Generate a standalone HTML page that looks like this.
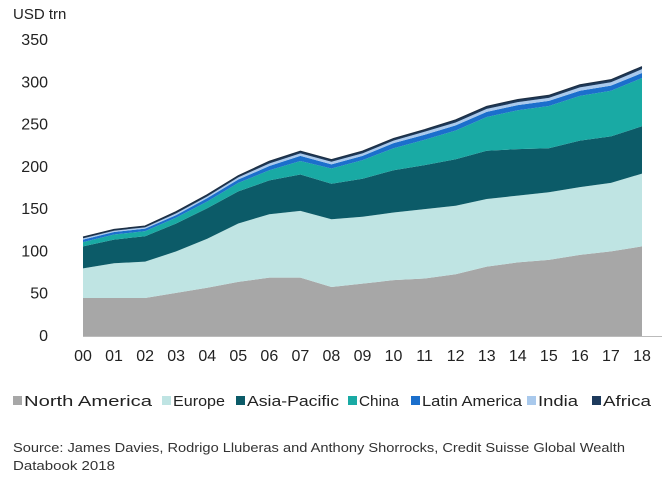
<!DOCTYPE html>
<html><head><meta charset="utf-8"><style>
html,body{margin:0;padding:0;background:#fff;}
svg{display:block;font-family:"Liberation Sans",sans-serif;}
</style></head><body>
<svg id="chart" width="668" height="485" viewBox="0 0 668 485">
<text x="13" y="19" font-size="15" fill="#222">USD trn</text>
<g id="areas"></g>
<g id="yticks"></g>
<g id="xticks"></g>
<line x1="83" y1="336.5" x2="662" y2="336.5" stroke="#bbb" stroke-width="1"/>
<g id="legend"></g>
<text x="13" y="452" font-size="12.5" fill="#333" textLength="612" lengthAdjust="spacingAndGlyphs">Source: James Davies, Rodrigo Lluberas and Anthony Shorrocks, Credit Suisse Global Wealth</text>
<text x="13" y="470" font-size="12.5" fill="#333" textLength="102" lengthAdjust="spacingAndGlyphs">Databook 2018</text>
</svg>
<script>
const years=["00","01","02","03","04","05","06","07","08","09","10","11","12","13","14","15","16","17","18"];
const seriesNames=["North America","Europe","Asia-Pacific","China","Latin America","India","Africa"];
const northAmerica=[45,45,45,51,57,64,69,69,58,62,66,68,73,82,87,90,96,100,106];
const europe=[35,41,43,49,58,69,75,79,80,79,80,82,81,80,79,80,80,81,86];
const asiaPacific=[26,28,30,33,36,38,40,43,42,45,50,52,55,57,55,52,55,55,56];
const china=[5,6,6,7,8,10,12,16,18,22,26,30,34,40,46,50,53,54,57];
const latinAmerica=[3,3,3,3,4,4,5,6,5,5,6,6,6,6,6,6,6,6,6];
const india=[1.5,1.5,1.5,2,2,2.5,3,3,3,3,3,3.5,3.5,3.5,3.5,3.5,4,4,4.5];
const africa=[1.5,1.5,1.5,2,2,2,2.5,2.5,2.5,2.5,2.5,2.5,3,3,3,3,3,3,3];
const yTicks=[0,50,100,150,200,250,300,350];
const colors=["#a7a7a7","#bfe4e3","#0c5b68","#19aaa4","#1b6fcc","#a9c9ec","#1d3a5c"];
const NS="http://www.w3.org/2000/svg";
const x0=83,x1=642,yBase=336,pxPer=0.8457;
function xs(i){return x0+(x1-x0)*i/(years.length-1);}
function ys(v){return yBase-v*pxPer;}
const all=[northAmerica,europe,asiaPacific,china,latinAmerica,india,africa];
const cum=years.map(()=>0);
const areas=document.getElementById('areas');
all.forEach((s,k)=>{
  const lower=cum.slice();
  s.forEach((v,i)=>cum[i]+=v);
  let d="M"+xs(0)+","+ys(cum[0]);
  for(let i=1;i<years.length;i++)d+=" L"+xs(i)+","+ys(cum[i]);
  for(let i=years.length-1;i>=0;i--)d+=" L"+xs(i)+","+ys(lower[i]);
  d+="Z";
  const p=document.createElementNS(NS,'path');
  p.setAttribute('d',d);p.setAttribute('fill',colors[k]);
  
  
  areas.appendChild(p);
});
let topPath="M"+xs(0)+","+ys(cum[0]);
for(let i=1;i<years.length;i++)topPath+=" L"+xs(i)+","+ys(cum[i]);
const tl=document.createElementNS(NS,'path');
tl.setAttribute('d',topPath);tl.setAttribute('fill','none');tl.setAttribute('stroke','#1d2f44');tl.setAttribute('stroke-width','1.2');


areas.appendChild(tl);
const yt=document.getElementById('yticks');
yTicks.forEach(v=>{
  const t=document.createElementNS(NS,'text');
  t.setAttribute('x',48);t.setAttribute('y',ys(v)+5);
  t.setAttribute('text-anchor','end');t.setAttribute('font-size','16');t.setAttribute('fill','#222');
  t.textContent=v;
  
  
  yt.appendChild(t);
});
const xt=document.getElementById('xticks');
years.forEach((y,i)=>{
  const t=document.createElementNS(NS,'text');
  t.setAttribute('x',xs(i));t.setAttribute('y',361);
  t.setAttribute('text-anchor','middle');t.setAttribute('font-size','16');t.setAttribute('fill','#222');
  t.textContent=y;
  
  
  xt.appendChild(t);
});
const legX=[13,162,236,348,411,527,592];
const legW=[128,52,92,40,100,40,48];
const lg=document.getElementById('legend');
seriesNames.forEach((n,k)=>{
  const g=document.createElementNS(NS,'g');
  
  
  const r=document.createElementNS(NS,'rect');
  r.setAttribute('x',legX[k]);r.setAttribute('y',396);r.setAttribute('width',9);r.setAttribute('height',9);r.setAttribute('fill',colors[k]);
  g.appendChild(r);
  const t=document.createElementNS(NS,'text');
  t.setAttribute('x',legX[k]+11);t.setAttribute('y',406);t.setAttribute('font-size','15');t.setAttribute('fill','#222');
  t.setAttribute('textLength',legW[k]);t.setAttribute('lengthAdjust','spacingAndGlyphs');
  t.textContent=n;
  g.appendChild(t);
  lg.appendChild(g);
});
</script>
</body></html>
